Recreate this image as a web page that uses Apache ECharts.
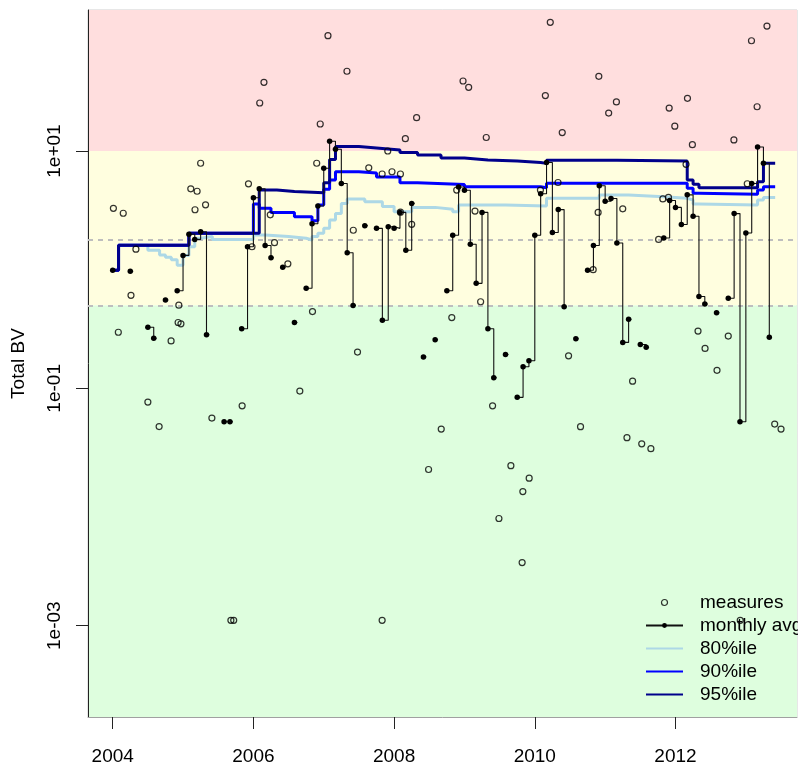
<!DOCTYPE html>
<html><head><meta charset="utf-8">
<script src="https://cdn.jsdelivr.net/npm/echarts@6/dist/echarts.min.js"></script>
<style>html,body{margin:0;padding:0;background:#fff}#c{width:798px;height:766px}</style>
</head><body><div id="c"></div>
<script>
// ---- axes / reference values ----
const xTickYears = [2004, 2006, 2008, 2010, 2012];
const yTickValues = [0.001, 0.1, 10];
const xRange = [2003.649, 2013.727];
const yRange = [1.7e-4, 154.3];
const bandLimits = [0.5, 10];
const refLines = [1.8, 0.5];

// ---- individual measures (decimal year, value) ----
const measureYears = [2004.01,2004.08,2004.15,2004.26,2004.33,2004.50,2004.66,2004.83,2004.93,2004.94,2004.97,
2005.11,2005.17,2005.20,2005.25,2005.32,2005.41,2005.68,2005.72,2005.84,2005.93,2005.98,
2006.09,2006.15,2006.24,2006.30,2006.49,2006.66,2006.84,2006.90,2006.95,
2007.06,2007.33,2007.42,2007.48,2007.64,2007.83,2007.83,2007.91,2007.97,
2008.09,2008.09,2008.16,2008.25,2008.32,2008.49,2008.67,2008.82,2008.89,2008.98,
2009.06,2009.15,2009.23,2009.31,2009.40,2009.49,2009.66,2009.82,2009.83,2009.92,
2010.08,2010.15,2010.22,2010.33,2010.39,2010.48,2010.65,2010.83,2010.90,2010.91,
2011.05,2011.16,2011.25,2011.31,2011.39,2011.52,2011.65,2011.76,2011.82,2011.90,2011.91,2011.99,
2012.15,2012.17,2012.24,2012.32,2012.42,2012.59,2012.75,2012.83,2012.92,
2013.02,2013.08,2013.16,2013.30,2013.41,2013.50];
const measureValues = [3.29,0.297,2.99,0.608,1.49,0.0766,0.0476,0.251,0.359,0.502,0.350,
4.80,3.20,4.58,7.89,3.52,0.0562,0.00111,0.00111,0.0712,5.29,1.56,
25.4,37.9,2.90,1.69,1.12,0.0949,0.444,7.89,16.9,
93.7,47.0,2.15,0.202,7.22,6.40,0.00111,10.0,6.69,
6.40,3.05,12.7,2.41,19.1,0.0207,0.0454,0.395,4.69,38.9,
34.4,3.12,0.537,13.0,0.0712,0.0080,0.0223,0.0034,0.0135,0.0175,
4.69,29.3,121.5,5.43,14.3,0.188,0.0475,1.00,3.04,42.6,
20.9,25.9,3.26,0.0384,0.115,0.0341,0.0310,1.80,3.95,4.07,23.0,16.2,
7.72,27.8,11.3,0.304,0.217,0.142,0.276,12.4,0.00111,
5.30,85.0,23.6,113,0.050,0.0454];

// ---- monthly averages ----
const avgMonths = ['2004-01','2004-04','2004-07','2004-08','2004-10','2004-12',
'2005-01','2005-02','2005-03','2005-04','2005-05','2005-08','2005-09','2005-11','2005-12',
'2006-01','2006-02','2006-03','2006-04','2006-06','2006-08','2006-10','2006-11','2006-12',
'2007-01','2007-02','2007-03','2007-04','2007-05','2007-06','2007-08','2007-10','2007-11','2007-12',
'2008-01','2008-02','2008-03','2008-04','2008-06','2008-08','2008-10','2008-11','2008-12',
'2009-01','2009-02','2009-03','2009-04','2009-05','2009-06','2009-08','2009-10','2009-11','2009-12',
'2010-01','2010-02','2010-03','2010-04','2010-05','2010-06','2010-08','2010-10','2010-11','2010-12',
'2011-01','2011-02','2011-03','2011-04','2011-05','2011-07','2011-08','2011-11','2011-12',
'2012-01','2012-02','2012-03','2012-04','2012-05','2012-06','2012-08','2012-10','2012-11','2012-12',
'2013-01','2013-02','2013-03','2013-04','2013-05'];
const avgValues = [0.99,0.97,0.327,0.264,0.555,0.665,
1.32,1.99,1.80,2.09,0.283,0.0523,0.0523,0.318,1.56,
4.04,4.81,1.60,1.26,1.05,0.359,0.697,2.44,3.44,
7.15,12.1,10.35,5.32,1.39,0.50,2.35,2.23,0.375,2.30,
2.23,3.04,1.46,3.62,0.184,0.257,0.665,1.95,4.97,
4.67,1.64,0.767,3.04,0.318,0.123,0.193,0.084,0.152,0.171,
1.95,4.36,8.0,2.06,3.21,0.487,0.262,0.99,1.60,5.10,
3.77,3.98,1.68,0.244,0.382,0.234,0.222,1.85,3.83,
3.35,2.40,4.27,2.82,0.594,0.514,0.434,0.574,2.97,0.0523,
2.04,5.32,10.8,7.89,0.269];

// ---- running percentiles (months where the level changes) ----
const p80Months = ['2004-01','2004-02','2004-07','2004-09','2004-10','2004-11','2004-12','2005-01','2005-02','2005-03','2005-04','2005-06',
'2006-01','2006-03','2006-07','2006-10','2006-11','2006-12','2007-01','2007-02','2007-03','2007-04','2007-05','2007-08','2007-11',
'2008-01','2008-04','2008-08','2008-11','2008-12','2009-08','2010-03','2010-12','2011-05','2011-11','2012-03','2012-04','2012-05','2013-03','2013-04','2013-06'];
const p80Values = [0.99,1.61,1.46,1.33,1.27,1.21,1.09,1.32,1.56,1.84,1.90,1.80,
1.96,1.90,1.84,1.78,1.90,2.03,2.23,2.62,2.98,3.62,3.94,3.74,3.40,
3.08,3.35,3.23,3.08,3.51,3.44,3.99,4.26,4.12,3.99,3.87,3.58,3.51,3.87,4.06,4.06];

const p90Months = ['2004-01','2004-02','2005-02','2006-01','2006-02','2006-04','2006-08','2006-11','2006-12','2007-01','2007-02','2007-03',
'2007-07','2007-10','2008-02','2008-05','2009-01','2010-02','2010-03','2012-03','2012-04','2012-05','2013-03','2013-04','2013-06'];
const p90Values = [0.99,1.61,2.03,3.58,3.29,3.04,2.79,2.59,3.51,4.76,5.70,6.69,
6.52,6.04,5.41,5.22,5.0,4.91,5.34,4.85,4.40,4.32,4.69,5.0,5.0];

const p95Months = ['2004-01','2004-02','2005-02','2006-02','2006-05','2006-08','2007-01','2007-02','2007-03','2007-07','2007-10',
'2008-02','2008-05','2008-09','2009-01','2009-05','2009-10','2010-02','2010-03','2011-03','2012-03','2012-04','2012-05','2013-03','2013-04','2013-06'];
const p95Values = [0.99,1.61,2.03,4.7,4.55,4.45,5.41,8.5,10.9,10.6,10.2,
9.7,9.25,8.73,8.4,8.24,8.0,7.87,8.35,8.25,5.7,5.24,4.91,5.51,7.87,7.87];

// ---- helpers ----
const FONT = '"Liberation Sans", Arial, Helvetica, sans-serif';
function monthIndex(s){ const p = s.split('-').map(Number); return p[0]*12 + p[1] - 1; }
function monthToYear(s){ return monthIndex(s) / 12; }
function pairs(months, values){ return months.map((m, i) => [monthToYear(m), values[i]]); }
function withGaps(months, values){
  const out = [];
  for (let i = 0; i < months.length; i++){
    if (i > 0 && monthIndex(months[i]) - monthIndex(months[i-1]) > 1) {
      out.push([monthToYear(months[i-1]) + 1/24, null]);
    }
    out.push([monthToYear(months[i]), values[i]]);
  }
  return out;
}
function expLabel(v){
  const e = Math.round(Math.log10(v));
  return '1e' + (e < 0 ? '-' : '+') + String(Math.abs(e)).padStart(2, '0');
}

const chart = echarts.init(document.getElementById('c'), null, {renderer: 'canvas'});
chart.setOption({
  animation: false,
  backgroundColor: '#ffffff',
  grid: {left: 88, right: 1, top: 10, bottom: 49, show: true, borderColor: '#cfcfcf', borderWidth: 1},
  xAxis: {
    type: 'value', min: xRange[0], max: xRange[1],
    axisLine: {show: true, lineStyle: {color: '#a0a0a0', width: 1}},
    axisTick: {show: true, length: 12, customValues: xTickYears, lineStyle: {color: '#222', width: 1}},
    axisLabel: {customValues: xTickYears, margin: 30, fontSize: 19, color: '#000', fontFamily: FONT,
      formatter: v => String(Math.round(v))},
    splitLine: {show: false}
  },
  yAxis: {
    type: 'log', logBase: 10, min: yRange[0], max: yRange[1],
    axisLine: {show: true, lineStyle: {color: '#222', width: 1}},
    axisTick: {show: true, length: 12, customValues: yTickValues, lineStyle: {color: '#222', width: 1}},
    axisLabel: {customValues: yTickValues, rotate: 90, margin: 24, fontSize: 19, color: '#000', fontFamily: FONT,
      formatter: expLabel},
    splitLine: {show: false},
    name: 'Total BV', nameLocation: 'middle', nameGap: 60, nameRotate: 90,
    nameTextStyle: {fontSize: 19, color: '#000', fontFamily: FONT}
  },
  legend: {
    orient: 'vertical', left: 640, top: 588, itemWidth: 37, itemHeight: 6, itemGap: 4,
    selectedMode: false,
    formatter: name => '{g|}' + name,
    textStyle: {fontSize: 19, color: '#000', fontFamily: FONT, rich: {g: {width: 12}}},
    data: [
      {name: 'measures', icon: 'circle', itemStyle: {color: 'rgba(0,0,0,0)', borderColor: '#000', borderWidth: 1.2}},
      {name: 'monthly avg'},
      {name: '80%ile', itemStyle: {opacity: 0}},
      {name: '90%ile', itemStyle: {opacity: 0}},
      {name: '95%ile', itemStyle: {opacity: 0}}
    ]
  },
  series: [
    {name: '80%ile', type: 'line', step: 'end', symbol: 'none', z: 2,
     lineStyle: {color: '#ADD8E6', width: 3}, itemStyle: {color: '#ADD8E6'},
     data: pairs(p80Months, p80Values)},
    {name: '90%ile', type: 'line', step: 'end', symbol: 'none', z: 2,
     lineStyle: {color: '#0000FF', width: 3}, itemStyle: {color: '#0000FF'},
     data: pairs(p90Months, p90Values)},
    {name: '95%ile', type: 'line', step: 'end', symbol: 'none', z: 2,
     lineStyle: {color: '#00008B', width: 3}, itemStyle: {color: '#00008B'},
     data: pairs(p95Months, p95Values)},
    {name: 'monthly avg', type: 'line', step: 'end', symbol: 'circle', symbolSize: 5.5, showAllSymbol: true, z: 3,
     lineStyle: {color: '#111', width: 1.1}, itemStyle: {color: '#000'},
     data: withGaps(avgMonths, avgValues)},
    {name: 'measures', type: 'scatter', symbol: 'circle', symbolSize: 6, z: 4,
     itemStyle: {color: 'rgba(0,0,0,0)', borderColor: '#000', borderWidth: 1.2},
     data: measureYears.map((y, i) => [y, measureValues[i]]),
     markArea: {silent: true, z: 0,
       data: [
         [{yAxis: bandLimits[1], itemStyle: {color: '#FFDEDE'}}, {yAxis: yRange[1]}],
         [{yAxis: bandLimits[0], itemStyle: {color: '#FFFEDF'}}, {yAxis: bandLimits[1]}],
         [{yAxis: yRange[0], itemStyle: {color: '#DEFEDE'}}, {yAxis: bandLimits[0]}]
       ]},
     markLine: {silent: true, z: 1, symbol: ['none', 'none'], label: {show: false},
       lineStyle: {color: '#BEBEBE', width: 2, type: [5, 5]},
       data: refLines.map(v => ({yAxis: v}))}
    }
  ]
});
</script></body></html>
